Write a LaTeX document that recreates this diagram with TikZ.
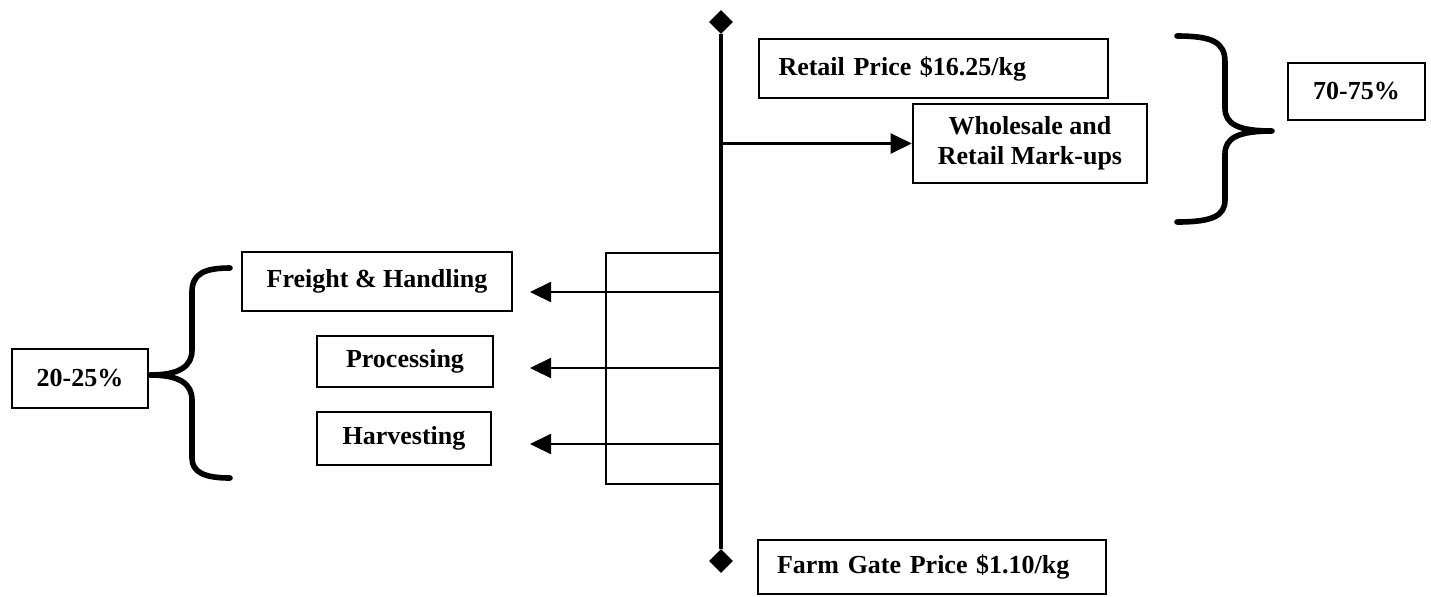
\documentclass[tikz,border=0pt]{standalone}
\usepackage{fontspec}
\setmainfont{Liberation Serif}
\usetikzlibrary{arrows.meta,shapes.geometric}

\begin{document}
\begin{tikzpicture}[x=0.5pt, y=-0.5pt,
      box/.style={draw, line width=1.3pt, inner sep=0pt, align=center,
                  font=\bfseries\fontsize{13}{15}\selectfont},
      leftbox/.style={box, align=left, inner xsep=9.5pt},
      axis/.style={line width=1.8pt},
      tipmark/.style={diamond, fill=black, inner sep=0pt, minimum size=12pt},
      feed/.style={line width=1.1pt, -{Triangle[length=10.5pt, width=10pt]}},
      curly/.style={line width=2.8pt, line cap=round, line join=round},
    ]
    \useasboundingbox (0,0) rectangle (1431,596);

    % Price axis
    \node[tipmark] (dtop) at (721,22) {};
    \node[tipmark] (dbot) at (721,561) {};
    \draw[axis] (dtop) -- (dbot);

    % Upper side: retail
    \node[leftbox, minimum width=174.5pt, minimum height=29.5pt,
          text width=155pt] (retail) at (933.5,68.5) {Retail Price \$16.25/kg};
    \node[box, minimum width=117pt, minimum height=39.5pt]
      (whole) at (1030,143.5) {Wholesale and\\Retail Mark-ups};
    \draw[feed] (dtop |- whole.west) -- (whole.west);

    \node[box, minimum width=68.5pt, minimum height=28.5pt]
      (pct70) at (1356.5,91.5) {70-75\%};
    \draw[curly] (1177,36) .. controls (1212,36) and (1225,42) .. (1225,62)
      -- (1225,108) .. controls (1225,124) and (1238,131) .. (1272,131)
      .. controls (1238,131) and (1225,138) .. (1225,154)
      -- (1225,200) .. controls (1225,216) and (1212,222) .. (1177,222);

    % Lower side: costs
    \node[box, minimum width=135pt, minimum height=29.5pt]
      (freight) at (377,281.5) {Freight \& Handling};
    \node[box, minimum width=88pt, minimum height=25.5pt]
      (proc) at (405,361.5) {Processing};
    \node[box, minimum width=87pt, minimum height=26.5pt]
      (harv) at (404,438.5) {Harvesting};

    \coordinate (gtop) at (606,253);
    \coordinate (gbot) at (606,484);
    \draw[line width=1.1pt] (dtop |- gtop) -- (gtop) -- (gbot) -- (dtop |- gbot);

    \foreach \y/\name in {292/fh, 368/pr, 444/hv} {
      \coordinate (\name-tip) at (530,\y);
      \draw[feed] (dtop |- \name-tip) -- (\name-tip);
    }

    \node[box, minimum width=68pt, minimum height=29.5pt]
      (pct20) at (80,378.5) {20-25\%};
    \draw[curly] (230,268) .. controls (204,268) and (192,274) .. (192,292)
      -- (192,350) .. controls (192,366) and (180,375) .. (150,375)
      .. controls (180,375) and (192,384) .. (192,400)
      -- (192,458) .. controls (192,472) and (204,478) .. (230,478);

    % Bottom: farm gate
    \node[leftbox, minimum width=174pt, minimum height=27pt,
          text width=155pt] (farm) at (932,567) {Farm Gate Price \$1.10/kg};
  \end{tikzpicture}
\end{document}
